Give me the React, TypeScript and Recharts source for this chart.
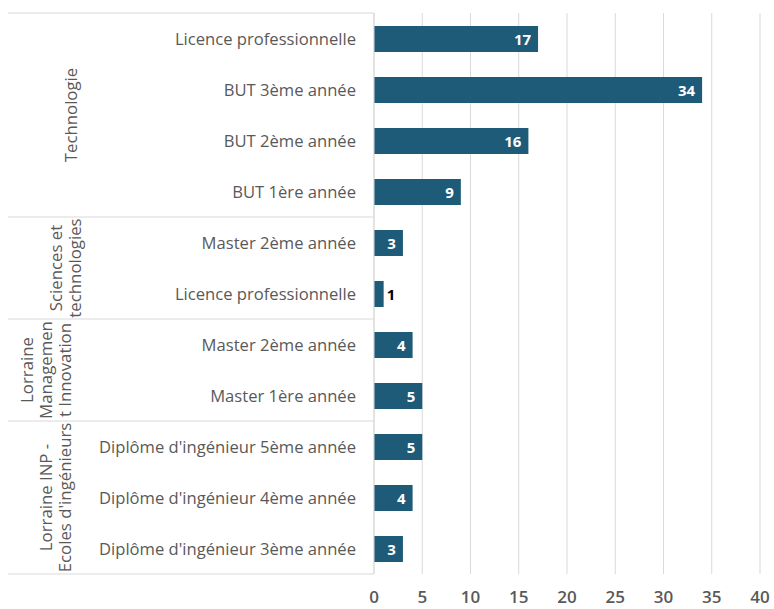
import React from 'react';
import { BarChart, Bar, XAxis, YAxis, CartesianGrid, LabelList } from 'recharts';

// rows top to bottom
const categories = [
  'Licence professionnelle',
  'BUT 3ème année',
  'BUT 2ème année',
  'BUT 1ère année',
  'Master 2ème année',
  'Licence professionnelle',
  'Master 2ème année',
  'Master 1ère année',
  "Diplôme d'ingénieur 5ème année",
  "Diplôme d'ingénieur 4ème année",
  "Diplôme d'ingénieur 3ème année",
];
const values = [17, 34, 16, 9, 3, 1, 4, 5, 5, 4, 3];

// outer level of the category axis (wrapped lines as in the source)
const groupLabels = [
  ['Technologie'],
  ['Sciences et', 'technologies'],
  ['Lorraine', 'Managemen', 't Innovation'],
  ['Lorraine INP -', "Ecoles d'ingénieurs"],
];
const groupSizes = [4, 2, 2, 3];

const xTicks = [0, 5, 10, 15, 20, 25, 30, 35, 40];

const data = categories.map((c, i) => ({ id: String(i), label: c, value: values[i] }));

const W = 774;
const H = 609;
const MARGIN = { top: 13, right: 14, bottom: 5, left: 0 };
const AXIS_W = 374;
const X_AXIS_H = 30;
const PLOT_H = H - MARGIN.top - MARGIN.bottom - X_AXIS_H;
const STEP = PLOT_H / categories.length;
const SEP_LEFT = 8;
// x of the last wrapped line of each group label
const GROUP_X = [70, 74, 64, 64];
const LINE_GAP = 19;

const TEXT = '#595959';
const LINE = '#d9d9d9';
const BAR = '#1d5b79';
const FONT = '"Open Sans", Lato, sans-serif';

const groupStarts = groupSizes.map((_, g) => groupSizes.slice(0, g).reduce((a, b) => a + b, 0));

const YTick = (props: any) => {
  const { y, payload } = props;
  const i = Number(payload.value);
  const g = groupStarts.indexOf(i);
  const parts: React.ReactNode[] = [];

  parts.push(
    <text key="t" x={AXIS_W - 18} y={y} textAnchor="end" dominantBaseline="central"
      fill={TEXT} fontSize={16.6} fontFamily={FONT}>
      {categories[i]}
    </text>
  );

  if (g >= 0) {
    const top = y - STEP / 2;
    parts.push(<line key="sep" x1={SEP_LEFT} x2={AXIS_W} y1={top} y2={top} stroke={LINE} />);
    const lines = groupLabels[g];
    const cy = y + ((groupSizes[g] - 1) / 2) * STEP;
    lines.forEach((ln, k) => {
      const lx = GROUP_X[g] - (lines.length - 1 - k) * LINE_GAP;
      parts.push(
        <text key={'g' + k} x={lx} y={cy} transform={`rotate(-90 ${lx} ${cy})`}
          textAnchor="middle" dominantBaseline="central" fill={TEXT} fontSize={16.8} fontFamily={FONT}>
          {ln}
        </text>
      );
    });
  }
  if (i === categories.length - 1) {
    const bottom = y + STEP / 2;
    parts.push(<line key="end" x1={SEP_LEFT} x2={AXIS_W} y1={bottom} y2={bottom} stroke={LINE} />);
  }
  return <g>{parts}</g>;
};

const ValueLabel = (props: any) => {
  const { x, y, width, height, value } = props;
  const cy = y + height / 2;
  if (width < 20) {
    return (
      <text x={x + width + 3} y={cy} dominantBaseline="central" fill="#000" fontSize={15}
        fontWeight={700} fontFamily={FONT}>
        {value}
      </text>
    );
  }
  return (
    <text x={x + width - 7} y={cy} textAnchor="end" dominantBaseline="central" fill="#fff"
      fontSize={15} fontWeight={700} fontFamily={FONT}>
      {value}
    </text>
  );
};

export default function App() {
  return (
    <div style={{ position: 'absolute', left: 0, top: 0, width: W, height: H, background: '#fff' }}>
      <BarChart width={W} height={H} data={data} layout="vertical" margin={MARGIN}>
        <CartesianGrid horizontal={false} stroke={LINE} />
        <XAxis type="number" domain={[0, 40]} ticks={xTicks} axisLine={false} tickLine={false}
          height={X_AXIS_H} tickMargin={11}
          tick={{ fill: TEXT, fontSize: 17, fontWeight: 600, fontFamily: FONT }} />
        <YAxis type="category" dataKey="id" width={AXIS_W} axisLine={{ stroke: LINE }}
          tickLine={false} interval={0} tick={<YTick />} />
        <Bar dataKey="value" fill={BAR} barSize={26} isAnimationActive={false}>
          <LabelList dataKey="value" content={<ValueLabel />} />
        </Bar>
      </BarChart>
    </div>
  );
}
